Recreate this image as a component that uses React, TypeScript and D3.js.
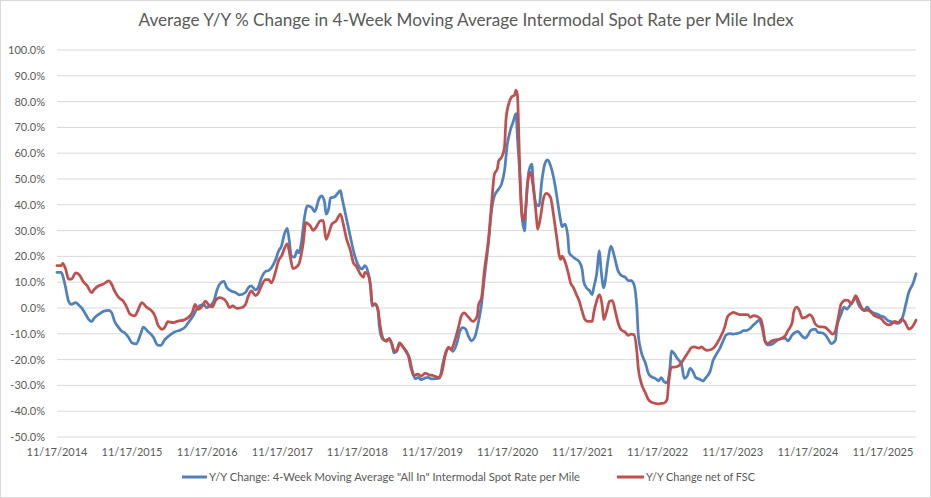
import React from "react";
import * as d3 from "d3";

// ---- data (weeks since 11/17/2014, Y/Y % change) ----
const startDate = new Date(2014, 10, 17);
const lastWeek = 597;

const blueWeeks = [0,3,4,6,8,10,13,15,17,20,22,24,26,29,32,36,38,40,43,45,47,50,52,55,58,60,63,67,70,72,75,79,82,85,89,92,95,97,99,102,104,106,109,111,113,116,118,121,124,127,131,133,135,138,140,142,145,147,149,152,154,156,158,160,161,163,165,167,168,170,172,174,177,179,180,182,184,186,187,189,190,193,195,197,198,201,203,205,207,209,212,214,216,218,219,221,223,224,226,228,230,233,234,236,238,241,243,245,247,249,251,253,256,258,260,263,266,268,271,273,275,278,280,282,284,286,288,290,293,295,297,300,302,304,307,309,311,313,315,317,319,320,322,323,325,326,328,330,331,333,335,337,339,341,343,346,348,350,351,353,355,356,358,360,363,365,366,368,370,372,373,375,377,378,380,381,383,385,387,390,392,395,397,399,401,403,404,406,409,411,413,416,418,420,422,424,426,427,429,431,434,436,438,440,442,444,447,449,451,454,456,458,461,463,465,468,470,472,475,477,479,482,484,486,488,490,492,494,497,499,502,506,508,511,513,515,517,520,522,524,527,529,531,534,536,538,541,542,545,547,549,551,553,555,556,558,561,563,565,568,570,572,575,577,579,582,584,586,588,590,592,595,597];
const blueValues = [13.8,13.8,12.5,7.9,2.7,1.4,2.1,1.2,0.1,-2.5,-4.4,-5.3,-3.8,-2.5,-1.4,-0.9,-1.8,-5.1,-7.7,-9.0,-9.6,-11.6,-13.5,-13.9,-10.3,-7.4,-9.0,-11.3,-14.4,-14.5,-12.2,-10.3,-9.2,-8.7,-7.4,-5.1,-2.7,-0.5,0.8,1.4,0.1,0.8,2.7,6.6,9.2,10.3,7.9,6.6,6.0,5.1,6.0,7.9,8.6,7.0,8.2,11.5,14.2,14.5,15.6,18.8,22.1,24.0,28.6,30.9,27.9,20.1,19.7,22.3,21.4,26.0,35.1,39.6,39.0,37.3,38.3,42.2,43.5,40.9,36.4,39.0,42.6,43.1,44.4,45.5,42.9,35.1,29.9,24.7,20.1,17.0,15.1,16.4,14.2,7.9,0.8,1.4,-0.5,-7.0,-11.8,-12.6,-12.2,-14.2,-17.4,-16.8,-13.9,-15.5,-17.4,-19.4,-24.5,-27.4,-26.9,-27.8,-27.1,-26.9,-27.5,-27.4,-27.1,-21.9,-16.1,-15.5,-16.8,-13.5,-9.0,-7.6,-8.2,-11.0,-12.7,-11.7,-5.2,1.3,11.7,26.0,37.7,43.5,46.1,48.1,53.2,63.6,68.8,72.1,75.3,66.2,48.1,36.4,29.9,40.3,53.2,55.8,48.1,40.3,39.6,49.4,55.8,57.4,55.2,48.1,41.0,34.0,31.5,32.5,27.9,21.4,20.1,19.2,17.9,14.9,10.4,7.8,6.8,5.2,7.8,13.0,22.1,15.6,7.8,10.4,18.8,24.0,20.8,14.3,12.7,11.9,10.6,10.6,9.1,0.0,-10.4,-16.9,-21.4,-25.3,-26.6,-27.4,-28.2,-27.0,-28.6,-29.0,-23.1,-16.6,-17.7,-19.5,-21.8,-27.3,-26.4,-23.4,-24.7,-27.0,-27.7,-28.3,-27.0,-24.4,-20.3,-18.2,-15.3,-12.7,-10.4,-9.9,-10.1,-9.9,-9.5,-8.8,-8.8,-7.8,-6.6,-5.6,-4.7,-7.5,-12.7,-14.3,-14.0,-13.2,-12.1,-11.7,-12.7,-10.4,-9.5,-9.1,-10.4,-11.7,-10.4,-8.6,-8.2,-9.5,-9.5,-10.4,-12.1,-13.8,-12.5,-7.5,-2.3,0.3,-0.4,0.9,2.6,4.2,2.9,0.3,-0.8,0.3,-1.0,-2.1,-2.3,-3.0,-3.6,-4.7,-5.2,-5.6,-6.0,-5.6,-3.0,1.6,6.1,9.6,13.2];

const redWeeks = [0,3,4,6,8,10,13,16,18,21,24,26,29,32,36,38,40,43,46,48,51,54,56,59,62,66,68,69,70,72,73,75,77,81,84,88,91,94,96,98,101,103,106,108,110,113,116,118,120,122,125,128,131,133,135,138,140,142,145,147,149,152,154,156,160,162,164,167,168,171,173,176,178,180,183,185,187,189,191,194,197,199,201,204,206,208,211,213,214,216,218,219,221,223,225,227,229,231,234,236,238,241,244,246,248,251,253,256,258,261,265,267,270,272,274,276,279,281,283,286,289,292,293,295,297,300,302,304,306,307,309,311,312,314,316,318,319,320,321,322,324,326,327,329,331,333,334,336,338,340,343,345,347,350,351,353,355,357,359,361,363,365,367,369,372,373,375,377,379,380,382,384,386,388,390,392,395,397,399,401,403,404,406,409,411,413,416,418,420,422,424,425,427,429,432,434,436,439,441,443,446,448,450,452,455,457,459,461,464,466,468,470,473,475,477,480,482,484,487,489,491,492,494,497,499,502,506,508,511,512,514,516,518,521,523,525,527,530,532,534,537,539,541,543,545,548,550,552,554,555,557,559,561,563,566,568,570,573,575,578,580,582,585,587,589,591,592,595,597];
const redValues = [16.4,16.4,17.3,15.1,11.2,11.2,13.6,12.5,10.5,8.6,6.0,7.3,8.6,9.2,10.5,9.2,6.6,4.0,2.7,0.8,-2.5,-3.1,-1.2,2.1,0.4,-1.2,-3.0,-4.6,-6.4,-7.9,-8.3,-7.4,-5.3,-5.7,-5.1,-4.7,-3.8,-1.8,1.4,-0.5,0.8,2.7,0.8,0.4,2.7,4.0,3.4,2.1,0.1,0.8,-0.1,0.1,1.4,4.7,6.6,4.8,5.9,8.5,11.0,11.0,9.7,14.3,18.4,20.1,24.9,20.1,15.3,16.2,16.9,24.7,33.1,31.8,30.1,31.2,33.8,34.0,26.6,29.2,32.5,33.8,36.4,32.5,27.3,22.1,17.5,16.2,13.0,11.9,13.8,13.1,7.9,1.4,1.7,-0.5,-8.3,-12.2,-12.9,-11.8,-16.1,-16.8,-13.5,-15.5,-18.1,-23.2,-26.1,-25.6,-26.5,-25.2,-25.8,-26.1,-26.9,-25.8,-18.1,-15.2,-16.1,-13.5,-7.5,-3.1,-1.9,-3.6,-5.2,-3.2,1.3,3.9,14.3,27.3,40.3,51.9,53.9,57.1,58.4,62.3,72.7,79.2,81.8,82.5,84.4,82.5,66.2,46.8,33.8,40.3,48.1,52.6,46.8,36.4,30.5,35.1,42.2,44.4,42.9,36.4,28.6,18.8,20.1,18.0,14.3,9.7,7.8,5.2,2.6,-1.3,-4.5,-5.2,-5.2,-1.9,2.6,5.2,0.6,-4.5,-1.3,2.6,2.9,-1.3,-5.8,-8.4,-9.4,-10.6,-10.1,-10.4,-16.9,-23.4,-29.0,-33.0,-35.5,-36.5,-37.0,-37.2,-37.0,-36.8,-35.5,-29.6,-22.9,-22.9,-22.5,-21.2,-19.5,-16.9,-15.3,-15.1,-15.6,-15.1,-16.0,-16.4,-16.0,-15.1,-13.4,-11.4,-7.5,-3.4,-2.3,-1.7,-2.3,-2.6,-2.6,-2.6,-3.6,-3.0,-3.4,-4.3,-8.8,-12.7,-13.8,-12.7,-12.4,-12.1,-10.8,-8.8,-5.6,-1.7,0.3,-1.0,-3.9,-3.4,-2.6,-3.6,-6.2,-7.3,-7.3,-7.5,-9.1,-10.1,-8.8,-3.6,1.6,3.1,2.9,1.6,3.5,4.8,2.9,0.3,-1.0,-0.8,-1.7,-3.0,-3.4,-4.3,-5.6,-6.5,-6.2,-5.2,-5.6,-4.3,-5.2,-7.3,-8.2,-6.9,-4.7];

const tickYears = [2014,2015,2016,2017,2018,2019,2020,2021,2022,2023,2024,2025];
const yTicks = [-50,-40,-30,-20,-10,0,10,20,30,40,50,60,70,80,90,100];

const titleText = "Average Y/Y % Change in 4-Week Moving Average Intermodal Spot Rate per Mile Index";
const seriesNames = ['Y/Y Change: 4-Week Moving Average "All In" Intermodal Spot Rate per Mile', "Y/Y Change net of FSC"];
const seriesColors = ["#4F81BD", "#C0504D"];

const W = 931, H = 498;
const FONT = "Lato, 'Open Sans', sans-serif";

const weekToDate = (w: number) => new Date(startDate.getTime() + w * 7 * 864e5);

export default function App() {
  const x = d3.scaleTime().domain([startDate, weekToDate(lastWeek)]).range([57, 916]);
  const y = d3.scaleLinear().domain([-50, 100]).range([437, 50]);
  const line = d3.line<[number, number]>()
    .x(d => x(weekToDate(d[0])))
    .y(d => y(d[1]))
    .curve(d3.curveMonotoneX);
  const blue: [number, number][] = blueWeeks.map((w, i) => [w, blueValues[i]]);
  const red: [number, number][] = redWeeks.map((w, i) => [w, redValues[i]]);
  const fmt = d3.timeFormat("%m/%d/%Y");

  return (
    <div style={{ position: "fixed", left: 0, top: 0, width: W, height: H, background: "#fff" }}>
      <svg width={W} height={H} style={{ display: "block" }} fontFamily={FONT}>
        <rect x={0.5} y={0.5} width={W - 1} height={H - 1} fill="#fff" stroke="#d9d9d9" />
        <text x={466} y={26} textAnchor="middle" fontSize={17} fill="#595959" textLength={655} lengthAdjust="spacingAndGlyphs">{titleText}</text>
        {yTicks.map(t => (
          <g key={t}>
            <line x1={57} x2={916} y1={y(t)} y2={y(t)} stroke="#d9d9d9" strokeWidth={1} />
            <text x={45} y={y(t) + 4} textAnchor="end" fontSize={11} fill="#595959">{t.toFixed(1) + "%"}</text>
          </g>
        ))}
        {tickYears.map(yr => {
          const d = new Date(yr, 10, 17);
          return (
            <text key={yr} x={x(d)} y={456} textAnchor="middle" fontSize={11} fill="#595959">{fmt(d).replace(/^0/, "")}</text>
          );
        })}
        <path d={line(blue) || ""} fill="none" stroke={seriesColors[0]} strokeWidth={2.75} strokeLinejoin="round" strokeLinecap="round" />
        <path d={line(red) || ""} fill="none" stroke={seriesColors[1]} strokeWidth={2.75} strokeLinejoin="round" strokeLinecap="round" />
        <line x1={182} x2={207} y1={477} y2={477} stroke={seriesColors[0]} strokeWidth={3} />
        <text x={209} y={481} fontSize={11} fill="#595959" textLength={371} lengthAdjust="spacingAndGlyphs">{seriesNames[0]}</text>
        <line x1={617} x2={644} y1={477} y2={477} stroke={seriesColors[1]} strokeWidth={3} />
        <text x={646} y={481} fontSize={11} fill="#595959" textLength={109} lengthAdjust="spacingAndGlyphs">{seriesNames[1]}</text>
      </svg>
    </div>
  );
}
